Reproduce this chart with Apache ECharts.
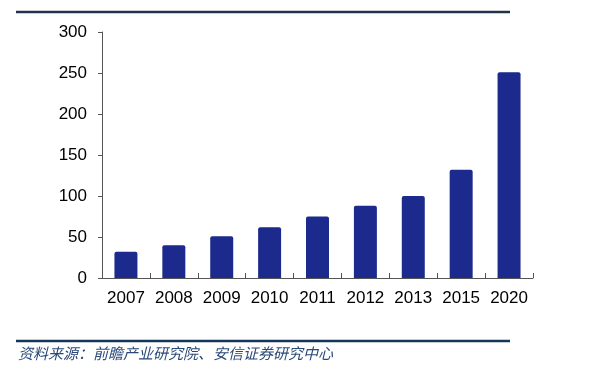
<!DOCTYPE html>
<html>
<head>
<meta charset="utf-8">
<script src="https://cdn.jsdelivr.net/npm/echarts@6/dist/echarts.min.js"></script>
<style>
  html, body { margin: 0; padding: 0; background: #fff; }
  #chart { width: 594px; height: 377px; }
</style>
</head>
<body>
<div id="chart"></div>
<script>
// 年份与数值
const years = ['2007', '2008', '2009', '2010', '2011', '2012', '2013', '2015', '2020']
const values = [32, 40, 51, 62, 75, 88, 100, 132, 251]
const yTicks = [0, 50, 100, 150, 200, 250, 300]
const sourceText = '资料来源：前瞻产业研究院、安信证券研究中心'

const chart = echarts.init(document.getElementById('chart'))

const option = {
  animation: false,
  grid: { left: 102, right: 61, top: 32, bottom: 99 },
  xAxis: {
    type: 'category',
    data: years,
    axisLine: { lineStyle: { color: '#555', width: 1 } },
    axisTick: { show: true, inside: true, length: 5, lineStyle: { color: '#555' } },
    axisLabel: {
      interval: 0,
      hideOverlap: false,
      color: '#000',
      fontSize: 17,
      fontFamily: 'Liberation Sans, Arial',
      margin: 12
    }
  },
  yAxis: {
    type: 'value',
    min: yTicks[0],
    max: yTicks[yTicks.length - 1],
    interval: 50,
    axisLine: { show: true, lineStyle: { color: '#555', width: 1 } },
    axisTick: { show: true, length: 4, lineStyle: { color: '#555' } },
    axisLabel: { color: '#000', fontSize: 17, fontFamily: 'Liberation Sans, Arial', margin: 15 },
    splitLine: { show: false }
  },
  series: [
    {
      type: 'bar',
      data: values,
      barWidth: '48%',
      itemStyle: { color: '#1b2a8c', borderRadius: [2, 2, 0, 0] }
    }
  ],
  graphic: [
    {
      type: 'line',
      shape: { x1: 16, y1: 12, x2: 510, y2: 12 },
      style: { stroke: '#1e3448', lineWidth: 2.5 }
    },
    {
      type: 'line',
      shape: { x1: 16, y1: 341, x2: 510, y2: 341 },
      style: { stroke: '#14365a', lineWidth: 2.5 }
    },
    {
      type: 'text',
      left: 18,
      top: 346,
      style: {
        text: sourceText,
        fill: '#2a4a7a',
        font: 'italic 15px "Noto Sans CJK SC"'
      }
    }
  ]
}

chart.setOption(option)
</script>
</body>
</html>
